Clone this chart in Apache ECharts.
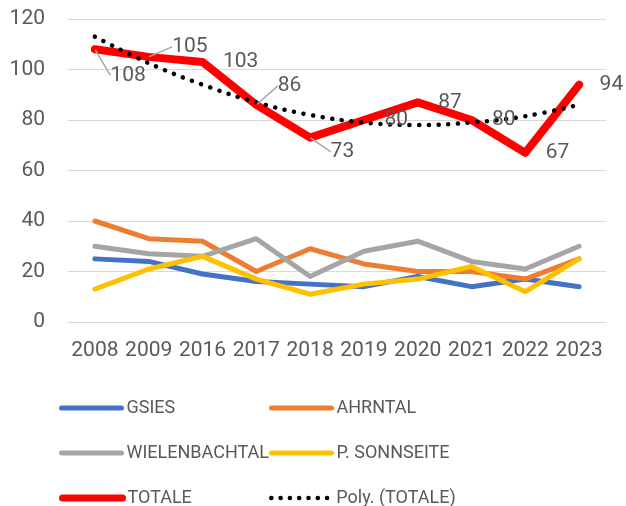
<!DOCTYPE html>
<html>
<head>
<meta charset="utf-8">
<script src="https://cdn.jsdelivr.net/npm/echarts@6/dist/echarts.min.js"></script>
<style>
  html, body { margin: 0; padding: 0; background: #fff; }
  #chart { width: 626px; height: 506px; }
</style>
</head>
<body>
<div id="chart"></div>
<script>
// values
var years = ['2008', '2009', '2016', '2017', '2018', '2019', '2020', '2021', '2022', '2023'];
var gsies = [25, 24, 19, 16, 15, 14, 18, 14, 17, 14];
var ahrntal = [40, 33, 32, 20, 29, 23, 20, 20, 17, 25];
var wielenbachtal = [30, 27, 26, 33, 18, 28, 32, 24, 21, 30];
var sonnseite = [13, 21, 26, 17, 11, 15, 17, 22, 12, 25];
var totale = [108, 105, 103, 86, 73, 80, 87, 80, 67, 94];
var trendTotale = [113, 102.5, 94, 87, 82, 79, 78, 79, 81.5, 86];
var yTicks = [0, 20, 40, 60, 80, 100, 120];

var textGray = '#595959';
var font = 'Roboto';

// some TOTALE labels are pulled off their point, with a leader line
var labelMoves = { 0: [-5, 26], 1: [3, -10], 3: [1, -19], 4: [0, 14] };

function lineSeries(name, data, color, width) {
  return {
    name: name,
    type: 'line',
    data: data,
    symbol: 'none',
    lineStyle: { color: color, width: width, cap: 'round', join: 'round' },
    itemStyle: { color: color },
    emphasis: { disabled: true }
  };
}

function legendAt(name, left, top, lineStyle) {
  return {
    data: [name],
    left: left,
    top: top,
    padding: 0,
    itemWidth: 60,
    itemHeight: 14,
    itemGap: 0,
    selectedMode: false,
    itemStyle: { opacity: 0 },
    lineStyle: lineStyle,
    textStyle: { color: textGray, fontFamily: font, fontSize: 18 }
  };
}

var totaleData = totale.map(function (v, i) {
  var item = { value: v };
  if (labelMoves[i]) item.labelLine = { show: true };
  return item;
});

var chart = echarts.init(document.getElementById('chart'), null, { renderer: 'canvas' });

var option = {
  animation: false,
  backgroundColor: '#ffffff',
  grid: { left: 68, right: 20, top: 19, bottom: 184 },
  xAxis: {
    type: 'category',
    data: years,
    boundaryGap: true,
    axisLine: { lineStyle: { color: '#D9D9D9', width: 1 } },
    axisTick: { show: false },
    axisLabel: { color: textGray, fontFamily: font, fontSize: 21, margin: 18, interval: 0 }
  },
  yAxis: {
    type: 'value',
    min: yTicks[0],
    max: yTicks[yTicks.length - 1],
    interval: yTicks[1] - yTicks[0],
    axisLine: { show: false },
    axisTick: { show: false },
    splitLine: { lineStyle: { color: '#D9D9D9', width: 1 } },
    axisLabel: { color: textGray, fontFamily: font, fontSize: 21, margin: 23 }
  },
  legend: [
    legendAt('GSIES', 59, 399, { width: 5, cap: 'round' }),
    legendAt('AHRNTAL', 269, 399, { width: 5, cap: 'round' }),
    legendAt('WIELENBACHTAL', 59, 444, { width: 5, cap: 'round' }),
    legendAt('P. SONNSEITE', 269, 444, { width: 5, cap: 'round' }),
    legendAt('TOTALE', 59, 489, { width: 7, cap: 'round' }),
    legendAt('Poly. (TOTALE)', 269, 489, { width: 4.5, type: [0.1, 9.2], cap: 'round' })
  ],
  series: [
    lineSeries('GSIES', gsies, '#4472C4', 5),
    lineSeries('AHRNTAL', ahrntal, '#ED7D31', 5),
    lineSeries('WIELENBACHTAL', wielenbachtal, '#A5A5A5', 5),
    lineSeries('P. SONNSEITE', sonnseite, '#FFC000', 5),
    {
      name: 'TOTALE',
      type: 'line',
      data: totaleData,
      symbol: 'circle',
      symbolSize: 1,
      lineStyle: { color: '#FF0000', width: 8, cap: 'round', join: 'round' },
      itemStyle: { color: '#FF0000' },
      emphasis: { disabled: true },
      label: {
        show: true,
        position: 'right',
        distance: 20,
        color: textGray,
        fontFamily: font,
        fontSize: 21
      },
      labelLine: { show: false, lineStyle: { color: '#A6A6A6', width: 1.5 } },
      labelLayout: function (p) {
        var m = labelMoves[p.dataIndex];
        return m ? { dx: m[0], dy: m[1] } : {};
      }
    },
    {
      name: 'Poly. (TOTALE)',
      type: 'line',
      data: trendTotale,
      smooth: 0.4,
      symbol: 'none',
      lineStyle: { color: '#000000', width: 4.5, type: [0.1, 9.6], cap: 'round' },
      itemStyle: { color: '#000000' },
      emphasis: { disabled: true },
      z: 3
    }
  ]
};

chart.setOption(option);
</script>
</body>
</html>
